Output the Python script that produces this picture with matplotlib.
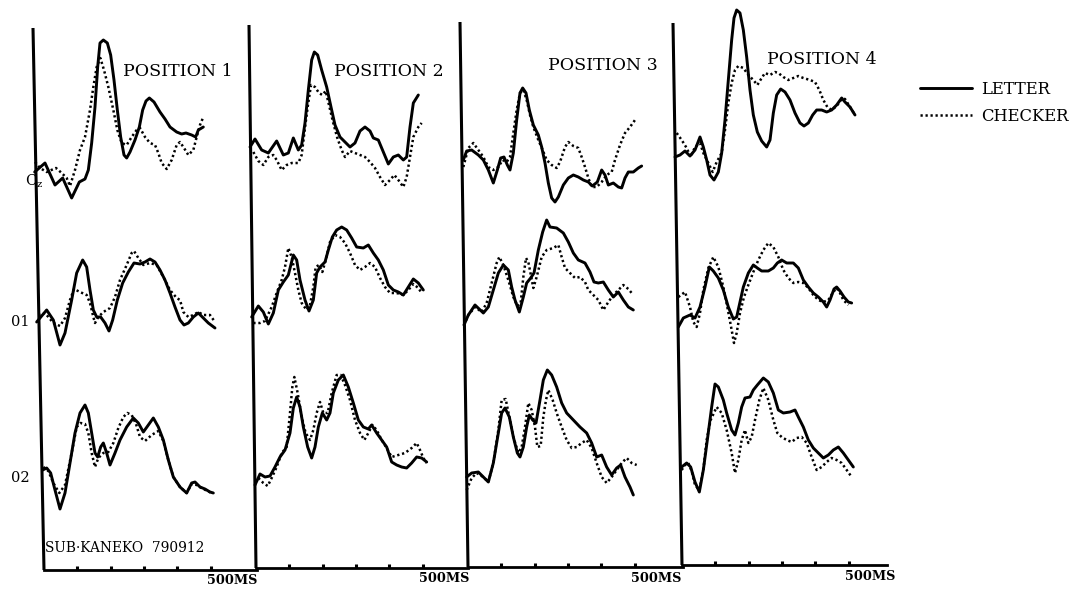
import matplotlib
matplotlib.use("Agg")
import matplotlib.pyplot as plt

# ---------------- data (time in ms, amplitude in arbitrary units, up = positive) ----------------
# Position 1
P1_CZ_LET_T = [-28, 3, 33, 56, 83, 106, 123, 133, 143, 153, 161, 168, 178, 190, 200, 210, 220, 230, 240, 248, 258, 273, 286, 296, 306, 316, 330, 348, 363, 378, 398, 413, 426, 443, 455, 463, 478]
P1_CZ_LET_V = [-12, -3, -25, -18, -38, -22, -19, -10, 17, 53, 93, 117, 120, 117, 105, 80, 50, 23, 5, 2, 8, 20, 33, 50, 59, 62, 58, 48, 41, 33, 28, 26, 27, 25, 23, 30, 33]
P1_CZ_CHK_T = [-27, -12, 8, 36, 53, 68, 78, 93, 108, 123, 138, 148, 158, 169, 180, 193, 208, 220, 233, 248, 263, 278, 288, 303, 318, 333, 343, 353, 368, 383, 398, 408, 420, 433, 448, 458, 468, 478]
P1_CZ_CHK_V = [-2, -8, -12, -8, -13, -18, -26, -10, 10, 23, 50, 73, 93, 102, 90, 73, 50, 30, 17, 15, 23, 30, 32, 23, 17, 15, 7, -3, -9, 0, 15, 18, 12, 5, 10, 23, 35, 43]
P1_O1_LET_T = [-22, 8, 28, 48, 63, 83, 98, 116, 128, 138, 148, 158, 170, 183, 195, 206, 220, 236, 253, 270, 288, 303, 318, 333, 348, 363, 378, 393, 408, 420, 433, 448, 463, 478, 493, 513]
P1_O1_LET_V = [-2, 10, 0, -25, -13, 20, 47, 60, 53, 30, 10, 3, 3, -3, -11, 0, 20, 37, 48, 57, 56, 58, 61, 58, 50, 40, 27, 13, 0, -5, -3, 3, 7, 2, -3, -8]
P1_O1_CHK_T = [-17, 3, 28, 48, 63, 78, 90, 108, 128, 138, 148, 153, 163, 178, 198, 213, 228, 248, 263, 270, 283, 298, 318, 338, 358, 378, 398, 408, 418, 433, 448, 463, 478, 498, 513]
P1_O1_CHK_V = [5, 7, -3, -6, 2, 20, 31, 28, 25, 17, 3, -3, 3, 8, 12, 23, 40, 55, 67, 69, 62, 55, 57, 55, 43, 30, 22, 20, 8, 3, 5, 8, 5, 5, -2]
P1_O2_LET_T = [-4, 8, 20, 33, 48, 63, 78, 93, 108, 123, 133, 143, 153, 161, 170, 178, 188, 198, 213, 228, 248, 268, 283, 298, 313, 328, 343, 358, 373, 388, 408, 428, 443, 453, 468, 483, 498, 508]
P1_O2_LET_V = [0, 2, -3, -20, -39, -23, 7, 37, 57, 65, 57, 37, 17, 13, 23, 27, 17, 5, 17, 30, 43, 52, 47, 38, 45, 52, 43, 30, 10, -7, -17, -23, -13, -12, -17, -19, -22, -23]
P1_O2_CHK_T = [-2, 13, 28, 46, 63, 83, 98, 110, 123, 133, 143, 153, 163, 178, 193, 208, 223, 238, 250, 263, 276, 288, 303, 323, 343, 358, 373, 388, 408, 428, 443, 458, 478, 503]
P1_O2_CHK_V = [3, -1, -13, -23, -15, 17, 43, 47, 46, 37, 17, 3, 12, 17, 18, 27, 42, 53, 57, 55, 46, 33, 29, 35, 39, 29, 10, -7, -17, -23, -14, -15, -19, -23]

# Position 2
P2_CZ_LET_T = [-18, -3, 17, 37, 62, 82, 97, 112, 127, 137, 147, 157, 167, 175, 185, 197, 212, 225, 237, 252, 267, 282, 297, 312, 327, 342, 352, 367, 382, 397, 412, 427, 442, 452, 462, 472, 487]
P2_CZ_LET_V = [13, 21, 10, 7, 19, 5, 7, 22, 10, 15, 37, 70, 100, 108, 105, 90, 73, 53, 35, 23, 18, 13, 17, 29, 33, 29, 22, 20, 8, -4, 3, 5, 0, 3, 33, 57, 65]
P2_CZ_CHK_T = [-8, 7, 22, 37, 52, 62, 77, 92, 107, 127, 137, 145, 155, 165, 177, 189, 199, 209, 219, 231, 244, 257, 267, 282, 297, 312, 327, 342, 357, 372, 387, 402, 415, 427, 442, 452, 462, 472, 487, 497]
P2_CZ_CHK_V = [8, -1, -5, 3, 5, 0, -10, -5, -3, -3, 5, 27, 53, 75, 73, 67, 65, 69, 55, 38, 22, 10, 3, 9, 7, 5, 3, -2, -8, -17, -25, -20, -15, -20, -27, -17, 3, 23, 33, 37]
P2_O1_LET_T = [-13, 7, 22, 37, 52, 67, 82, 97, 112, 122, 132, 147, 159, 172, 182, 192, 207, 217, 229, 242, 257, 272, 287, 302, 322, 337, 352, 367, 382, 397, 412, 427, 442, 457, 472, 487, 502]
P2_O1_LET_V = [3, 14, 8, -4, 7, 30, 38, 45, 65, 60, 40, 20, 9, 20, 47, 53, 58, 70, 83, 90, 93, 90, 82, 73, 72, 75, 67, 60, 50, 35, 30, 28, 25, 33, 41, 37, 30]
P2_O1_CHK_T = [-8, 12, 27, 47, 62, 77, 87, 97, 107, 117, 127, 137, 152, 162, 172, 179, 189, 199, 209, 222, 237, 252, 267, 282, 297, 312, 327, 342, 357, 372, 387, 402, 422, 442, 457, 472, 487, 497]
P2_O1_CHK_V = [-3, -3, -1, 13, 27, 40, 53, 72, 63, 47, 30, 17, 10, 15, 33, 53, 55, 48, 60, 78, 85, 83, 77, 67, 55, 50, 53, 57, 53, 42, 33, 27, 27, 25, 30, 36, 32, 27]
P2_O2_LET_T = [-3, 12, 27, 42, 57, 72, 87, 102, 112, 122, 132, 142, 155, 167, 177, 187, 199, 212, 222, 232, 247, 262, 277, 292, 307, 322, 337, 347, 362, 377, 392, 407, 422, 437, 452, 467, 482, 497, 512]
P2_O2_LET_V = [-15, -4, -7, -6, 3, 13, 20, 37, 62, 73, 63, 43, 23, 12, 23, 43, 57, 50, 57, 77, 90, 95, 83, 67, 50, 43, 41, 45, 37, 30, 23, 8, 5, 3, 2, 7, 13, 12, 8]
P2_O2_CHK_T = [7, 22, 35, 47, 62, 77, 92, 102, 109, 115, 125, 137, 149, 162, 172, 182, 192, 202, 215, 227, 242, 254, 267, 282, 297, 312, 325, 337, 349, 362, 377, 392, 407, 427, 447, 467, 482, 492, 502, 512]
P2_O2_CHK_V = [-8, -13, -16, -8, 3, 17, 23, 57, 83, 93, 77, 53, 37, 30, 40, 57, 68, 57, 57, 77, 95, 95, 85, 70, 50, 37, 30, 37, 45, 40, 30, 22, 13, 15, 17, 22, 27, 20, 12, 7]

# Position 3
P3_CZ_LET_T = [-14, -4, 11, 31, 46, 61, 76, 88, 98, 108, 118, 126, 136, 146, 156, 164, 174, 184, 196, 211, 221, 231, 241, 251, 261, 271, 286, 301, 316, 331, 346, 361, 373, 388, 401, 411, 421, 436, 451, 461, 471, 481, 496, 511, 521]
P3_CZ_LET_V = [0, 9, 10, 5, 0, -10, -23, -10, 2, 3, -5, -10, 7, 40, 67, 72, 67, 50, 35, 25, 13, -3, -23, -38, -42, -37, -25, -18, -15, -17, -20, -22, -26, -22, -10, -15, -25, -23, -27, -28, -18, -12, -12, -8, -6]
P3_CZ_CHK_T = [-14, 1, 16, 31, 46, 61, 76, 91, 104, 116, 126, 136, 146, 156, 166, 176, 186, 196, 211, 224, 236, 251, 266, 276, 291, 301, 316, 331, 341, 351, 361, 371, 386, 401, 416, 431, 441, 456, 471, 486, 501]
P3_CZ_CHK_V = [-7, 12, 17, 10, 3, -7, -10, -7, 0, -2, 3, 27, 50, 67, 70, 60, 45, 33, 20, 10, 0, -5, -8, -2, 13, 18, 14, 12, 3, -7, -18, -27, -27, -22, -15, -12, 0, 15, 27, 33, 40]
P3_O1_LET_T = [-12, 1, 21, 46, 61, 76, 91, 106, 121, 131, 141, 154, 166, 176, 188, 198, 211, 224, 236, 246, 266, 286, 301, 316, 331, 351, 366, 378, 391, 406, 421, 436, 451, 466, 481, 496]
P3_O1_LET_V = [-5, 5, 15, 7, 13, 30, 47, 55, 50, 33, 20, 8, 23, 37, 42, 47, 70, 88, 100, 93, 92, 87, 78, 67, 60, 57, 48, 38, 37, 38, 30, 23, 28, 20, 13, 10]
P3_O1_CHK_T = [-12, 1, 21, 41, 56, 71, 86, 94, 106, 121, 136, 148, 158, 166, 174, 181, 188, 196, 206, 221, 236, 256, 271, 281, 291, 306, 321, 336, 351, 361, 376, 391, 406, 421, 436, 451, 466, 481, 491]
P3_O1_CHK_V = [-5, 5, 13, 8, 17, 37, 57, 63, 55, 40, 23, 14, 17, 43, 62, 58, 46, 32, 43, 63, 70, 72, 75, 63, 52, 47, 42, 43, 38, 30, 25, 20, 10, 18, 25, 30, 35, 31, 27]
P3_O2_LET_T = [-4, 11, 31, 46, 61, 76, 91, 101, 111, 124, 136, 148, 156, 166, 176, 184, 194, 204, 216, 226, 238, 251, 266, 281, 296, 316, 336, 356, 371, 386, 401, 416, 431, 446, 458, 471, 486, 496]
P3_O2_LET_V = [-7, -3, -2, -7, -12, 7, 37, 57, 62, 53, 33, 17, 13, 23, 43, 55, 50, 47, 70, 90, 100, 95, 83, 67, 57, 50, 43, 37, 27, 13, 15, 3, -5, 2, 5, -7, -17, -25]
P3_O2_CHK_T = [-4, 11, 26, 46, 61, 76, 91, 101, 113, 124, 136, 151, 161, 171, 181, 191, 201, 208, 218, 226, 234, 241, 254, 266, 281, 296, 311, 326, 341, 356, 371, 386, 401, 416, 431, 446, 461, 476, 491, 506]
P3_O2_CHK_V = [-20, -8, -3, -7, -12, 7, 40, 70, 71, 53, 33, 17, 23, 43, 67, 60, 43, 23, 24, 53, 70, 80, 70, 57, 43, 30, 22, 23, 27, 30, 22, 7, -7, -13, -7, 0, 7, 12, 7, 5]

# Position 4
P4_CZ_LET_T = [-21, -6, 9, 24, 39, 54, 64, 74, 84, 96, 109, 119, 129, 139, 149, 156, 164, 174, 184, 194, 204, 214, 226, 239, 254, 264, 274, 284, 296, 309, 324, 339, 354, 366, 379, 392, 404, 419, 434, 449, 464, 479, 489, 504, 519]
P4_CZ_LET_V = [3, 5, 9, 4, 10, 23, 13, 0, -15, -20, -12, 7, 40, 80, 120, 142, 150, 147, 130, 103, 70, 45, 28, 19, 13, 20, 47, 65, 71, 68, 60, 47, 37, 34, 37, 45, 50, 50, 48, 50, 55, 62, 58, 53, 45]
P4_CZ_CHK_T = [-16, -1, 14, 26, 39, 54, 64, 79, 92, 104, 119, 129, 139, 149, 159, 169, 184, 199, 214, 226, 239, 249, 264, 279, 289, 304, 319, 334, 349, 364, 384, 399, 412, 424, 436, 449, 464, 479, 489, 504, 519]
P4_CZ_CHK_V = [27, 20, 12, 3, 13, 17, 7, -3, -12, -2, 7, 30, 57, 77, 90, 94, 92, 85, 80, 75, 82, 87, 85, 88, 87, 83, 80, 82, 84, 82, 80, 78, 70, 60, 53, 50, 54, 61, 61, 53, 45]
P4_O1_LET_T = [-11, 4, 24, 39, 54, 69, 82, 94, 109, 124, 139, 154, 164, 174, 184, 199, 214, 226, 239, 259, 274, 286, 299, 314, 334, 349, 364, 379, 394, 409, 424, 434, 444, 456, 464, 474, 486, 499, 509]
P4_O1_LET_V = [-7, 2, 5, 2, 13, 33, 53, 49, 42, 30, 13, 1, 3, 18, 33, 47, 55, 52, 49, 49, 52, 57, 60, 57, 57, 52, 40, 33, 27, 23, 18, 13, 20, 31, 33, 29, 23, 18, 17]
P4_O1_CHK_T = [-11, 9, 24, 34, 44, 54, 64, 79, 94, 109, 124, 136, 149, 156, 164, 174, 186, 199, 214, 229, 244, 259, 274, 289, 304, 319, 334, 349, 364, 379, 394, 409, 424, 439, 454, 464, 474, 484, 499]
P4_O1_CHK_V = [23, 28, 13, -2, -7, 7, 30, 52, 63, 53, 33, 13, -10, -23, -13, 7, 23, 35, 48, 60, 70, 77, 73, 63, 50, 42, 37, 38, 37, 32, 25, 20, 18, 20, 28, 32, 27, 20, 15]
P4_O2_LET_T = [-1, 14, 26, 39, 52, 64, 76, 89, 99, 109, 124, 134, 149, 159, 169, 179, 189, 204, 214, 226, 244, 259, 274, 289, 304, 324, 339, 349, 364, 379, 394, 409, 424, 439, 454, 469, 484, 499, 514]
P4_O2_LET_V = [3, 7, 3, -12, -22, 0, 30, 63, 86, 83, 70, 57, 40, 35, 47, 63, 72, 73, 80, 85, 92, 88, 77, 60, 57, 58, 60, 53, 43, 30, 22, 17, 12, 15, 20, 23, 17, 10, 3]
P4_O2_CHK_T = [-1, 9, 19, 29, 39, 52, 64, 74, 86, 104, 119, 134, 149, 159, 169, 179, 189, 199, 209, 219, 232, 244, 259, 274, 286, 299, 314, 329, 344, 359, 374, 389, 404, 419, 434, 449, 464, 479, 494, 509]
P4_O2_CHK_V = [0, 5, 7, -1, -15, -20, 0, 30, 50, 63, 57, 40, 17, -3, 10, 30, 40, 27, 33, 50, 70, 82, 70, 50, 37, 33, 30, 28, 32, 33, 27, 13, 0, 3, 8, 12, 10, 7, 0, -7]

POSITION_LABELS = ["POSITION 1", "POSITION 2", "POSITION 3", "POSITION 4"]
CHANNELS = ["Cz", "O1", "O2"]
CHANNEL_LABELS = ["C$_{\\mathregular{z}}$", "01", "02"]
SERIES_LABELS = ["LETTER", "CHECKER"]
TICKS_MS = [100, 200, 300, 400, 500]
SCALE_LABEL = "500MS"
SUBJECT_LABEL = "SUB\u00b7KANEKO  790912"

# ---------------- layout (pixels of the 1079x593 canvas) ----------------
W, H = 1079, 593
MS_PER_PX = 3.0
X0_PX = [44, 256, 468, 682]          # bottom-left corner of each panel
AXIS_END_PX = [257, 468, 683, 887]    # right end of the time axis
BOTTOM_PX = [570, 568, 567, 565]      # y of the time axis
LINE_TOP = [(33, 28), (249, 25), (460, 22), (673, 23)]  # top of the (slanted) left border
ROW_BASE_PX = {"Cz": 160, "O1": 320, "O2": 470}
POS_LABEL_PX = [(178, 71), (389, 71), (603, 66), (822, 60)]
CH_LABEL_PX = [(34, 181), (20, 322), (20, 478)]

SERIF = ["DejaVu Serif"]
plt.rcParams["font.family"] = SERIF

data = {
    0: {"Cz": (P1_CZ_LET_T, P1_CZ_LET_V, P1_CZ_CHK_T, P1_CZ_CHK_V),
        "O1": (P1_O1_LET_T, P1_O1_LET_V, P1_O1_CHK_T, P1_O1_CHK_V),
        "O2": (P1_O2_LET_T, P1_O2_LET_V, P1_O2_CHK_T, P1_O2_CHK_V)},
    1: {"Cz": (P2_CZ_LET_T, P2_CZ_LET_V, P2_CZ_CHK_T, P2_CZ_CHK_V),
        "O1": (P2_O1_LET_T, P2_O1_LET_V, P2_O1_CHK_T, P2_O1_CHK_V),
        "O2": (P2_O2_LET_T, P2_O2_LET_V, P2_O2_CHK_T, P2_O2_CHK_V)},
    2: {"Cz": (P3_CZ_LET_T, P3_CZ_LET_V, P3_CZ_CHK_T, P3_CZ_CHK_V),
        "O1": (P3_O1_LET_T, P3_O1_LET_V, P3_O1_CHK_T, P3_O1_CHK_V),
        "O2": (P3_O2_LET_T, P3_O2_LET_V, P3_O2_CHK_T, P3_O2_CHK_V)},
    3: {"Cz": (P4_CZ_LET_T, P4_CZ_LET_V, P4_CZ_CHK_T, P4_CZ_CHK_V),
        "O1": (P4_O1_LET_T, P4_O1_LET_V, P4_O1_CHK_T, P4_O1_CHK_V),
        "O2": (P4_O2_LET_T, P4_O2_LET_V, P4_O2_CHK_T, P4_O2_CHK_V)},
}

fig = plt.figure(figsize=(W / 100, H / 100), dpi=100)
fig.patch.set_facecolor("white")

LET_STYLE = dict(color="black", lw=2.1, ls="-", solid_joinstyle="round", solid_capstyle="round")
CHK_STYLE = dict(color="black", lw=1.8, ls=(0, (0.9, 1.1)), dash_capstyle="butt")

handles = None
for i in range(4):
    x0, xe, yb = X0_PX[i], AXIS_END_PX[i], BOTTOM_PX[i]
    ax = fig.add_axes([x0 / W, (H - yb) / H, (xe - x0) / W, yb / H])
    ax.set_xlim(0, (xe - x0) * MS_PER_PX)
    ax.set_ylim(0, yb)
    ax.patch.set_alpha(0)
    for s in ("left", "top", "right"):
        ax.spines[s].set_visible(False)
    ax.spines["bottom"].set_linewidth(2.0)
    ax.set_xticks(TICKS_MS)
    ax.set_yticks([])
    ax.tick_params(axis="x", direction="in", length=3, width=2.2, labelbottom=False)

    # slanted left border
    lx, ly = LINE_TOP[i]
    ax.plot([(lx - x0) * MS_PER_PX, 0], [yb - ly, 0], color="black", lw=2.2,
            clip_on=False, solid_capstyle="butt")

    for ch in CHANNELS:
        lt, lv, ct, cv = data[i][ch]
        off = yb - ROW_BASE_PX[ch]
        l1, = ax.plot(lt, [off + v for v in lv], clip_on=False, **LET_STYLE)
        l2, = ax.plot(ct, [off + v for v in cv], clip_on=False, **CHK_STYLE)
        if handles is None:
            handles = [l1, l2]

    px, py = POS_LABEL_PX[i]
    ax.text((px - x0) * MS_PER_PX, yb - py, POSITION_LABELS[i], ha="center", va="center",
            fontsize=12.5)
    ax.text(488, -11, SCALE_LABEL, ha="left", va="center", fontsize=9.3, fontweight="bold")

    if i == 0:
        for (cx, cy), lab in zip(CH_LABEL_PX, CHANNEL_LABELS):
            ax.text((cx - x0) * MS_PER_PX, yb - cy, lab, ha="center", va="center", fontsize=10.5)
        ax.text(3, yb - 548, SUBJECT_LABEL, ha="left", va="center", fontsize=9.9)

fig.legend(handles, SERIES_LABELS, loc="upper left", bbox_to_anchor=(920 / W, 1 - 81 / H),
           frameon=False, fontsize=11.8, handlelength=3.2, handletextpad=0.55,
           labelspacing=0.6, borderpad=0, borderaxespad=0)

fig.savefig("out.png", dpi=100, facecolor="white")
